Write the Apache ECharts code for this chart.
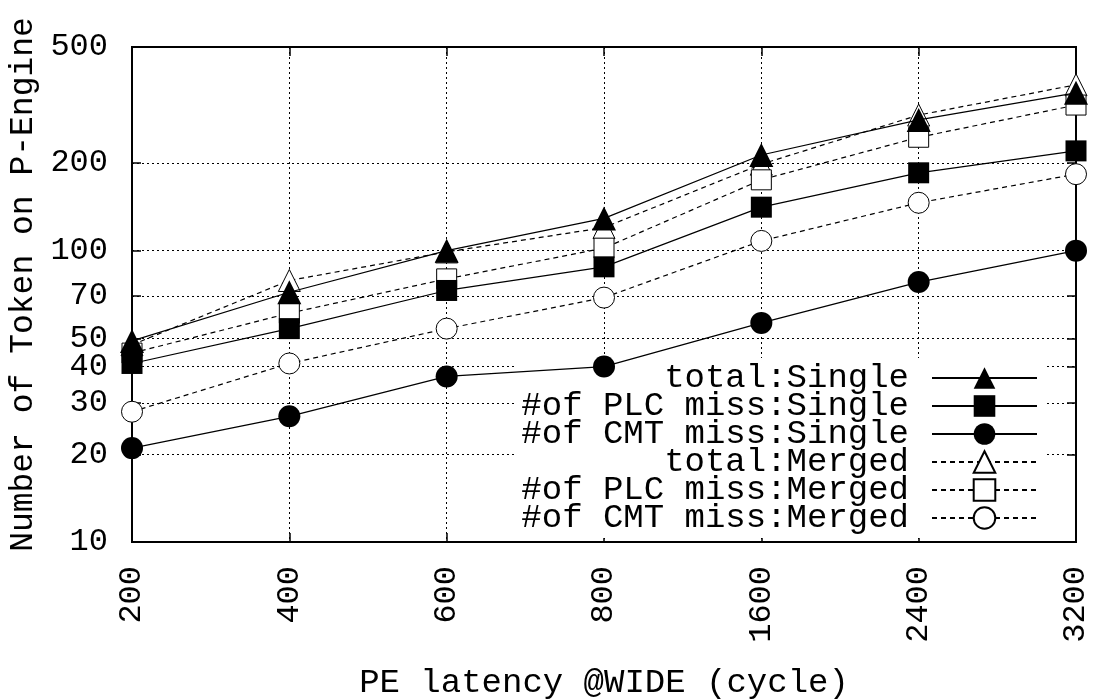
<!DOCTYPE html>
<html>
<head>
<meta charset="utf-8">
<script src="https://cdn.jsdelivr.net/npm/echarts@6/dist/echarts.min.js"></script>
<style>
  html, body { margin: 0; padding: 0; background: #fff; }
  #chart { width: 1096px; height: 700px; }
</style>
</head>
<body>
<div id="chart"></div>
<script>
const categories = ["200", "400", "600", "800", "1600", "2400", "3200"];
const yTicks = [10, 20, 30, 40, 50, 70, 100, 200, 500];

const totalSingle = [49, 72, 100, 129, 213, 281, 348];
const plcSingle = [41, 54, 73, 88, 141, 185, 220];
const cmtSingle = [21, 27, 37, 40, 56.5, 78, 100];
const totalMerged = [47.5, 79, 99, 120, 198, 292, 371];
const plcMerged = [44.5, 61, 80, 102, 175, 245, 316];
const cmtMerged = [28, 41, 54, 69, 108, 146, 183];

const FONT = "Liberation Mono";
const dotted = [2, 3];
const dashed = [5, 4];

// single runs sit on top of merged ones, like in the original plot
function makeSeries(name, data, symbol, size, filled, lineType) {
  return {
    name: name,
    type: "line",
    data: data,
    symbol: symbol,
    symbolSize: size,
    showAllSymbol: true,
    z: filled ? 4 : 3,
    itemStyle: filled
      ? { color: "#000", borderColor: "#000", borderWidth: 0 }
      : { color: "#fff", borderColor: "#000", borderWidth: 1 },
    lineStyle: { color: "#000", width: 1.2, type: lineType },
    emphasis: { disabled: true },
    animation: false,
  };
}

const series = [
  makeSeries("total:Single", totalSingle, "triangle", 24, true, "solid"),
  makeSeries("#of PLC miss:Single", plcSingle, "rect", 21, true, "solid"),
  makeSeries("#of CMT miss:Single", cmtSingle, "circle", 22, true, "solid"),
  makeSeries("total:Merged", totalMerged, "triangle", 22, false, dashed),
  makeSeries("#of PLC miss:Merged", plcMerged, "rect", 20, false, dashed),
  makeSeries("#of CMT miss:Merged", cmtMerged, "circle", 21, false, dashed),
];

const chart = echarts.init(document.getElementById("chart"), null, { renderer: "canvas" });

const yAxisBase = {
  type: "log",
  logBase: 10,
  min: 10,
  max: 500,
  axisLine: { show: true, lineStyle: { color: "#000", width: 2 } },
  axisTick: { show: true, inside: true, length: 9, customValues: yTicks, lineStyle: { color: "#000", width: 1.5 } },
  minorTick: { show: false },
};

chart.setOption({
  backgroundColor: "#fff",
  animation: false,
  grid: {
    left: 132, right: 20, top: 47, bottom: 158,
    outerBoundsMode: "none",
    show: true, borderColor: "#000", borderWidth: 2, backgroundColor: "transparent",
  },
  legend: {
    orient: "vertical",
    align: "right",
    right: 50,
    bottom: 162,
    itemWidth: 105,
    itemHeight: 27,
    itemGap: -6,
    padding: [3, 8, 3, 5],
    backgroundColor: "#fff",
    selectedMode: false,
    textStyle: { fontFamily: FONT, fontSize: 34, color: "#000", lineHeight: 28, padding: [0, 18, 0, 0] },
    data: series.map((s) => s.name),
  },
  xAxis: [
    {
      type: "category",
      data: categories,
      boundaryGap: false,
      position: "bottom",
      name: "PE latency @WIDE (cycle)",
      nameLocation: "middle",
      nameGap: 124,
      nameTextStyle: { fontFamily: FONT, fontSize: 34, color: "#000" },
      axisLine: { show: true, lineStyle: { color: "#000", width: 2 } },
      axisTick: { show: true, inside: true, length: 9, alignWithLabel: true, lineStyle: { color: "#000", width: 1.5 } },
      axisLabel: { rotate: 90, margin: 24, fontFamily: FONT, fontSize: 32, color: "#000", interval: 0 },
      splitLine: { show: true, lineStyle: { color: "#000", width: 1, type: dotted } },
    },
    {
      type: "category",
      data: categories,
      boundaryGap: false,
      position: "top",
      axisLine: { show: true, lineStyle: { color: "#000", width: 2 } },
      axisTick: { show: true, inside: true, length: 9, lineStyle: { color: "#000", width: 1.5 } },
      axisLabel: { show: false },
      splitLine: { show: false },
    },
  ],
  yAxis: [
    Object.assign({}, yAxisBase, {
      position: "left",
      name: "Number of Token on P-Engine",
      nameLocation: "middle",
      nameGap: 92,
      nameTextStyle: { fontFamily: FONT, fontSize: 33, color: "#000", padding: [0, 0, 0, 20] },
      axisLabel: { customValues: yTicks, margin: 24, fontFamily: FONT, fontSize: 32, color: "#000" },
      splitLine: { show: true, lineStyle: { color: "#000", width: 1, type: dotted } },
    }),
    Object.assign({}, yAxisBase, {
      position: "right",
      axisLabel: { show: false },
      splitLine: { show: false },
    }),
  ],
  series: series,
});
</script>
</body>
</html>
